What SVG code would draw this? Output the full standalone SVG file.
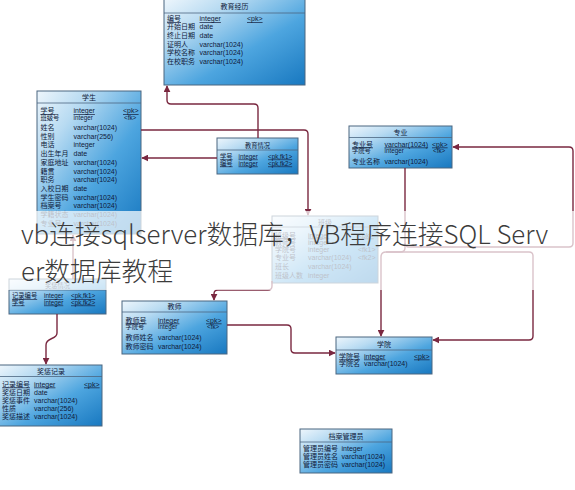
<svg xmlns="http://www.w3.org/2000/svg" width="575" height="490" viewBox="0 0 575 490">
<defs>
<linearGradient id="tg" x1="0" y1="0" x2="1" y2="1">
<stop offset="0" stop-color="#eef6fc"/>
<stop offset="0.25" stop-color="#b8dbf2"/>
<stop offset="0.6" stop-color="#4da5df"/>
<stop offset="1" stop-color="#1878c0"/>
</linearGradient>
<marker id="ar" viewBox="0 0 10 10" refX="9" refY="5" markerWidth="7" markerHeight="7" markerUnits="userSpaceOnUse" orient="auto"><path d="M0,0 L10,5 L0,10 z" fill="#7a2840"/></marker>
</defs>
<style>
.tb{fill:url(#tg);stroke:#4b6680;stroke-width:1}
.hd{stroke:#4b6680;stroke-width:0.8}
.t{font-family:"Liberation Sans","Noto Sans CJK SC",sans-serif;font-size:7px;fill:#101a3a}
.s{font-size:6.3px}
.u{text-decoration:underline}
.h{text-anchor:middle}
.c{fill:none;stroke:#7a2840;stroke-width:1.4;marker-end:url(#ar)}
.big{font-family:"Noto Sans CJK SC",sans-serif;font-size:25.8px;font-weight:300;fill:#3c3c3c}
</style>
<rect width="575" height="490" fill="#ffffff"/>

<g id="t-jyjl">
<rect class="tb" x="164" y="-1" width="141" height="86"/>
<line class="hd" x1="164" y1="13" x2="305" y2="13"/>
<text class="t h" x="234.5" y="9">教育经历</text>
<text class="t u" x="167" y="21">编号</text><text class="t u" x="199.5" y="21">integer</text><text class="t u" x="247" y="21">&lt;pk&gt;</text>
<text class="t" x="167" y="28.5">开始日期</text><text class="t" x="199.5" y="28.5">date</text>
<text class="t" x="167" y="37.5">终止日期</text><text class="t" x="199.5" y="37.5">date</text>
<text class="t" x="167" y="46.5">证明人</text><text class="t" x="199.5" y="46.5">varchar(1024)</text>
<text class="t" x="167" y="55">学校名称</text><text class="t" x="199.5" y="55">varchar(1024)</text>
<text class="t" x="167" y="64">在校职务</text><text class="t" x="199.5" y="64">varchar(1024)</text>
</g>

<g id="t-xs">
<rect class="tb" x="37" y="91" width="104" height="143"/>
<line class="hd" x1="37" y1="103" x2="141" y2="103"/>
<text class="t h" x="89" y="99.5">学生</text>
<text class="t u" x="40.5" y="113">学号</text><text class="t u" x="73.5" y="113">integer</text><text class="t u" x="123" y="113">&lt;pk&gt;</text>
<text class="t s" x="40.5" y="120">班级号</text><text class="t s" x="73.5" y="120">integer</text><text class="t s" x="124" y="120">&lt;fk&gt;</text>
<text class="t" x="40.5" y="129.5">姓名</text><text class="t" x="73.5" y="129.5">varchar(1024)</text>
<text class="t" x="40.5" y="139">性别</text><text class="t" x="73.5" y="139">varchar(256)</text>
<text class="t" x="40.5" y="147">电话</text><text class="t" x="73.5" y="147">integer</text>
<text class="t" x="40.5" y="156">出生年月</text><text class="t" x="73.5" y="156">date</text>
<text class="t" x="40.5" y="164.5">家庭地址</text><text class="t" x="73.5" y="164.5">varchar(1024)</text>
<text class="t" x="40.5" y="173.5">籍贯</text><text class="t" x="73.5" y="173.5">varchar(1024)</text>
<text class="t" x="40.5" y="182">职务</text><text class="t" x="73.5" y="182">varchar(1024)</text>
<text class="t" x="40.5" y="191">入校日期</text><text class="t" x="73.5" y="191">date</text>
<text class="t" x="40.5" y="199.5">学生密码</text><text class="t" x="73.5" y="199.5">varchar(1024)</text>
<text class="t" x="40.5" y="208">档案号</text><text class="t" x="73.5" y="208">varchar(1024)</text>
<text class="t" x="40.5" y="216.5">学籍状态</text><text class="t" x="73.5" y="216.5">varchar(1024)</text>
<text class="t" x="40.5" y="225.5">专业号</text><text class="t" x="73.5" y="225.5">varchar(1024)</text>
</g>

<g id="t-jyqk">
<rect class="tb" x="217" y="138" width="81" height="36"/>
<line class="hd" x1="217" y1="150" x2="298" y2="150"/>
<text class="t s h" x="257.5" y="147.5">教育情况</text>
<text class="t s u" x="220" y="158.5">学号</text><text class="t s u" x="238.5" y="158.5">integer</text><text class="t s u" x="268" y="158.5">&lt;pk,fk1&gt;</text>
<text class="t s u" x="220" y="165.5">编号</text><text class="t s u" x="238.5" y="165.5">integer</text><text class="t s u" x="268" y="165.5">&lt;pk,fk2&gt;</text>
</g>

<g id="t-zy">
<rect class="tb" x="349" y="126" width="103" height="42"/>
<line class="hd" x1="349" y1="137.5" x2="452" y2="137.5"/>
<text class="t h" x="400.5" y="134.5">专业</text>
<text class="t u" x="352" y="146.5">专业号</text><text class="t u" x="384.5" y="146.5">varchar(1024)</text><text class="t u" x="432" y="146.5">&lt;pk&gt;</text>
<text class="t s" x="352" y="152.5">学院号</text><text class="t s" x="384.5" y="152.5">integer</text><text class="t s" x="433" y="152.5">&lt;fk&gt;</text>
<text class="t" x="352" y="164">专业名称</text><text class="t" x="384.5" y="164">varchar(1024)</text>
</g>

<g id="t-bj">
<rect class="tb" x="272" y="216" width="106" height="67"/>
<line class="hd" x1="272" y1="227" x2="378" y2="227"/>
<text class="t h" x="325" y="224.5">班级</text>
<text class="t u" x="275" y="237.5">班级号</text><text class="t u" x="308" y="237.5">integer</text><text class="t u" x="358" y="237.5">&lt;pk&gt;</text>
<text class="t" x="275" y="245">教师号</text><text class="t" x="308" y="245">integer</text>
<text class="t" x="275" y="252">学院号</text><text class="t" x="308" y="252">integer</text><text class="t" x="358" y="252">&lt;fk1&gt;</text>
<text class="t" x="275" y="259.5">专业号</text><text class="t" x="308" y="259.5">varchar(1024)</text><text class="t" x="358" y="259.5">&lt;fk2&gt;</text>
<text class="t" x="275" y="269">班长</text><text class="t" x="308" y="269">varchar(1024)</text>
<text class="t" x="275" y="277.5">班级人数</text><text class="t" x="308" y="277.5">integer</text>
</g>

<g id="t-jcqk">
<rect class="tb" x="9" y="279" width="97" height="35"/>
<line class="hd" x1="9" y1="290" x2="106" y2="290"/>
<text class="t s h" x="57.5" y="287.5">奖惩情况</text>
<text class="t s u" x="12" y="298">记录编号</text><text class="t s u" x="44" y="298">integer</text><text class="t s u" x="71" y="298">&lt;pk,fk1&gt;</text>
<text class="t s u" x="12" y="304.5">学号</text><text class="t s u" x="44" y="304.5">integer</text><text class="t s u" x="71" y="304.5">&lt;pk,fk2&gt;</text>
</g>

<g id="t-js">
<rect class="tb" x="122" y="301" width="105" height="53"/>
<line class="hd" x1="122" y1="312" x2="227" y2="312"/>
<text class="t h" x="174.5" y="309">教师</text>
<text class="t u" x="125.5" y="322.5">教师号</text><text class="t u" x="158" y="322.5">integer</text><text class="t u" x="206" y="322.5">&lt;pk&gt;</text>
<text class="t s" x="125.5" y="328.5">学院号</text><text class="t s" x="158" y="328.5">integer</text><text class="t s" x="207" y="328.5">&lt;fk&gt;</text>
<text class="t" x="125.5" y="340">教师姓名</text><text class="t" x="158" y="340">varchar(1024)</text>
<text class="t" x="125.5" y="349">教师密码</text><text class="t" x="158" y="349">varchar(1024)</text>
</g>

<g id="t-xy">
<rect class="tb" x="336" y="337" width="96" height="37"/>
<line class="hd" x1="336" y1="350" x2="432" y2="350"/>
<text class="t h" x="384" y="347">学院</text>
<text class="t u" x="339" y="358.5">学院号</text><text class="t u" x="364" y="358.5">integer</text><text class="t u" x="414" y="358.5">&lt;pk&gt;</text>
<text class="t" x="339" y="366">学院名</text><text class="t" x="364" y="366">varchar(1024)</text>
</g>

<g id="t-jcjl">
<rect class="tb" x="-1" y="365" width="103" height="61"/>
<line class="hd" x1="-1" y1="376.5" x2="102" y2="376.5"/>
<text class="t h" x="51" y="373.5">奖惩记录</text>
<text class="t u" x="2" y="386.5">记录编号</text><text class="t u" x="34" y="386.5">integer</text><text class="t u" x="84" y="386.5">&lt;pk&gt;</text>
<text class="t" x="2" y="395">奖惩日期</text><text class="t" x="34" y="395">date</text>
<text class="t" x="2" y="403">奖惩事件</text><text class="t" x="34" y="403">varchar(1024)</text>
<text class="t" x="2" y="411">性质</text><text class="t" x="34" y="411">varchar(256)</text>
<text class="t" x="2" y="419">奖惩描述</text><text class="t" x="34" y="419">varchar(1024)</text>
</g>

<g id="t-dagly">
<rect class="tb" x="300" y="429" width="92" height="44"/>
<line class="hd" x1="300" y1="442" x2="392" y2="442"/>
<text class="t h" x="346" y="438.5">档案管理员</text>
<text class="t" x="303" y="451">管理员编号</text><text class="t" x="341.5" y="451">integer</text>
<text class="t" x="303" y="459">管理员姓名</text><text class="t" x="341.5" y="459">varchar(1024)</text>
<text class="t" x="303" y="467">管理员密码</text><text class="t" x="341.5" y="467">varchar(1024)</text>
</g>

<g id="connectors">
<path class="c" d="M258,138 V108 Q258,104 254,104 H171 Q167,104 167,100 V86"/>
<path class="c" d="M217,158 H142"/>
<path class="c" d="M141,130 H304 Q308,130 308,134 V215"/>
<path class="c" d="M405,168 V243 Q405,247 409,247 H569 Q573,247 573,243 V151 Q573,147 569,147 H453"/>
<path class="c" d="M405,243 V248 Q405,252 400,252 H386 Q381,252 381,257 V336"/>
<path class="c" d="M386,252 H529 Q533,252 533,256 V336 Q533,340 529,340 H433"/>
<path class="c" d="M272,281 V286 Q272,290 268,290 H218 Q214,290 214,294 V300"/>
<path class="c" d="M227,325 H287 Q291,325 291,329 V349 Q291,353 295,353 H335"/>
<path class="c" d="M57,314 V333 C57,340 46,337 46,345 V364"/>
<path class="c" d="M73,279 V235"/>
</g>

<rect x="0" y="211" width="575" height="79" fill="#ffffff" fill-opacity="0.72"/>
<text class="big" x="21" y="244">vb连接sqlserver数据库，VB程序连接SQL Serv</text>
<text class="big" x="21" y="281">er数据库教程</text>
</svg>
